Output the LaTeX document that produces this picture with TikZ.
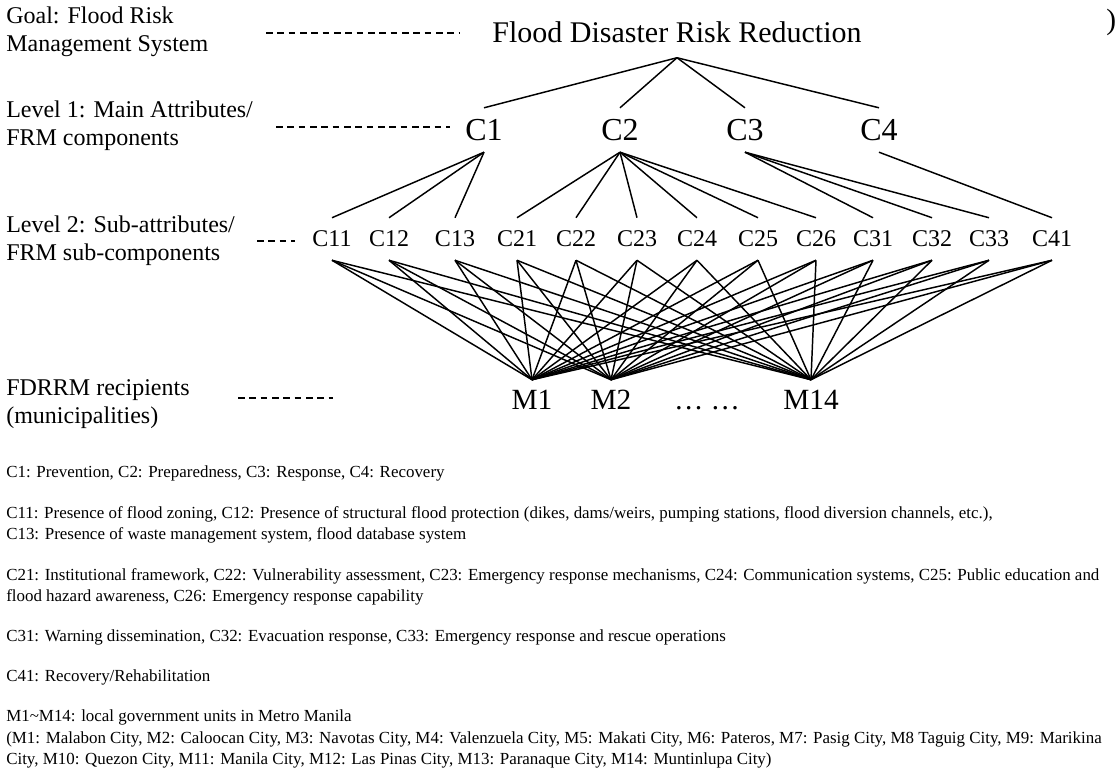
\documentclass[tikz,border=0pt]{standalone}
\usepackage{fontspec}
\setmainfont{Liberation Serif}
\begin{document}
\begin{tikzpicture}[x=0.75pt,y=-0.75pt,
  conn/.style={line width=1.1pt},
  guide/.style={line width=0.8pt, dash pattern=on 5pt off 3.5pt},
  lvl/.style={anchor=west, align=left, inner sep=0pt, font=\fontsize{18}{21}\selectfont},
  ttl/.style={inner xsep=0pt, inner ysep=10.9pt, text height=14.9pt, text depth=0pt, font=\fontsize{22.5}{27}\selectfont},
  mainc/.style={inner xsep=0pt, inner ysep=8.5pt, text height=15.9pt, text depth=0pt, font=\fontsize{24}{28}\selectfont},
  subc/.style={inner xsep=0pt, inner ysep=9.8pt, text height=11.9pt, text depth=0pt, font=\fontsize{18}{21}\selectfont},
  muni/.style={inner xsep=0pt, inner ysep=7.7pt, text height=14.6pt, text depth=0pt, font=\fontsize{22}{26}\selectfont},
  note/.style={anchor=base west, inner sep=0pt, font=\fontsize{12.7}{15}\selectfont},
]
\useasboundingbox (0,0) rectangle (1118,772);

% level labels
\node[lvl] (Lgoal) at (6,31.5) {Goal: Flood Risk\\Management System};
\node[lvl] (Lone) at (6,126) {Level 1: Main Attributes/\\FRM components};
\node[lvl] (Ltwo) at (6,241) {Level 2: Sub-attributes/\\FRM sub-components};
\node[lvl] (Lrec) at (6,404) {FDRRM recipients\\(municipalities)};

\coordinate (g1) at (266,33);  \coordinate (g2) at (460,33);
\coordinate (h1) at (276,127); \coordinate (h2) at (450,127);
\coordinate (k1) at (257,241); \coordinate (k2) at (295,241);
\coordinate (r1) at (238,398); \coordinate (r2) at (333,398);
\draw[guide] (g1) -- (g2);
\draw[guide] (h1) -- (h2);
\draw[guide] (k1) -- (k2);
\draw[guide] (r1) -- (r2);

% goal
\node[ttl] (T) at (677,33) {Flood Disaster Risk Reduction};
\node[anchor=west, inner sep=0pt, font=\fontsize{22}{26}\selectfont] (edge) at (1106,22) {)};

% level 1
\foreach \n/\x in {C1/484, C2/620, C3/745, C4/879}
  \node[mainc] (\n) at (\x,130) {\n};

% level 2
\foreach \n/\x in {C11/332, C12/389, C13/455, C21/517, C22/576, C23/637, C24/697,
                   C25/758, C26/816, C31/873, C32/932, C33/989, C41/1052}
  \node[subc] (\n) at (\x,239) {\n};

% municipalities
\node[muni] (M1) at (532,400) {M1};
\node[muni] (M2) at (611,400) {M2};
\node[muni] (dots) at (707,400) {… …};
\node[muni] (M14) at (811,400) {M14};

% connectors
\foreach \c in {C1,C2,C3,C4}
  \draw[conn] (T.south) -- (\c.north);
\foreach \p/\c in {C1/C11, C1/C12, C1/C13,
                   C2/C21, C2/C22, C2/C23, C2/C24, C2/C25, C2/C26,
                   C3/C31, C3/C32, C3/C33, C4/C41}
  \draw[conn] (\p.south) -- (\c.north);
\foreach \c in {C11,C12,C13,C21,C22,C23,C24,C25,C26,C31,C32,C33,C41}
  \foreach \m in {M1,M2,M14}
    \draw[conn] (\c.south) -- (\m.north);

% notes
\node[note] (n1) at (6,477) {C1: Prevention, C2: Preparedness, C3: Response, C4: Recovery};
\node[note] (n2) at (6,518) {C11: Presence of flood zoning, C12: Presence of structural flood protection (dikes, dams/weirs, pumping stations, flood diversion channels, etc.),};
\node[note] (n3) at (6,539) {C13: Presence of waste management system, flood database system};
\node[note] (n4) at (6,580) {C21: Institutional framework, C22: Vulnerability assessment, C23: Emergency response mechanisms, C24: Communication systems, C25: Public education and};
\node[note] (n5) at (6,601) {flood hazard awareness, C26: Emergency response capability};
\node[note] (n6) at (6,641) {C31: Warning dissemination, C32: Evacuation response, C33: Emergency response and rescue operations};
\node[note] (n7) at (6,681) {C41: Recovery/Rehabilitation};
\node[note] (n8) at (6,721) {M1\textasciitilde M14: local government units in Metro Manila};
\node[note] (n9) at (6,743) {(M1: Malabon City, M2: Caloocan City, M3: Navotas City, M4: Valenzuela City, M5: Makati City, M6: Pateros, M7: Pasig City, M8 Taguig City, M9: Marikina};
\node[note] (n10) at (6,764) {City, M10: Quezon City, M11: Manila City, M12: Las Pinas City, M13: Paranaque City, M14: Muntinlupa City)};
\end{tikzpicture}
\end{document}
